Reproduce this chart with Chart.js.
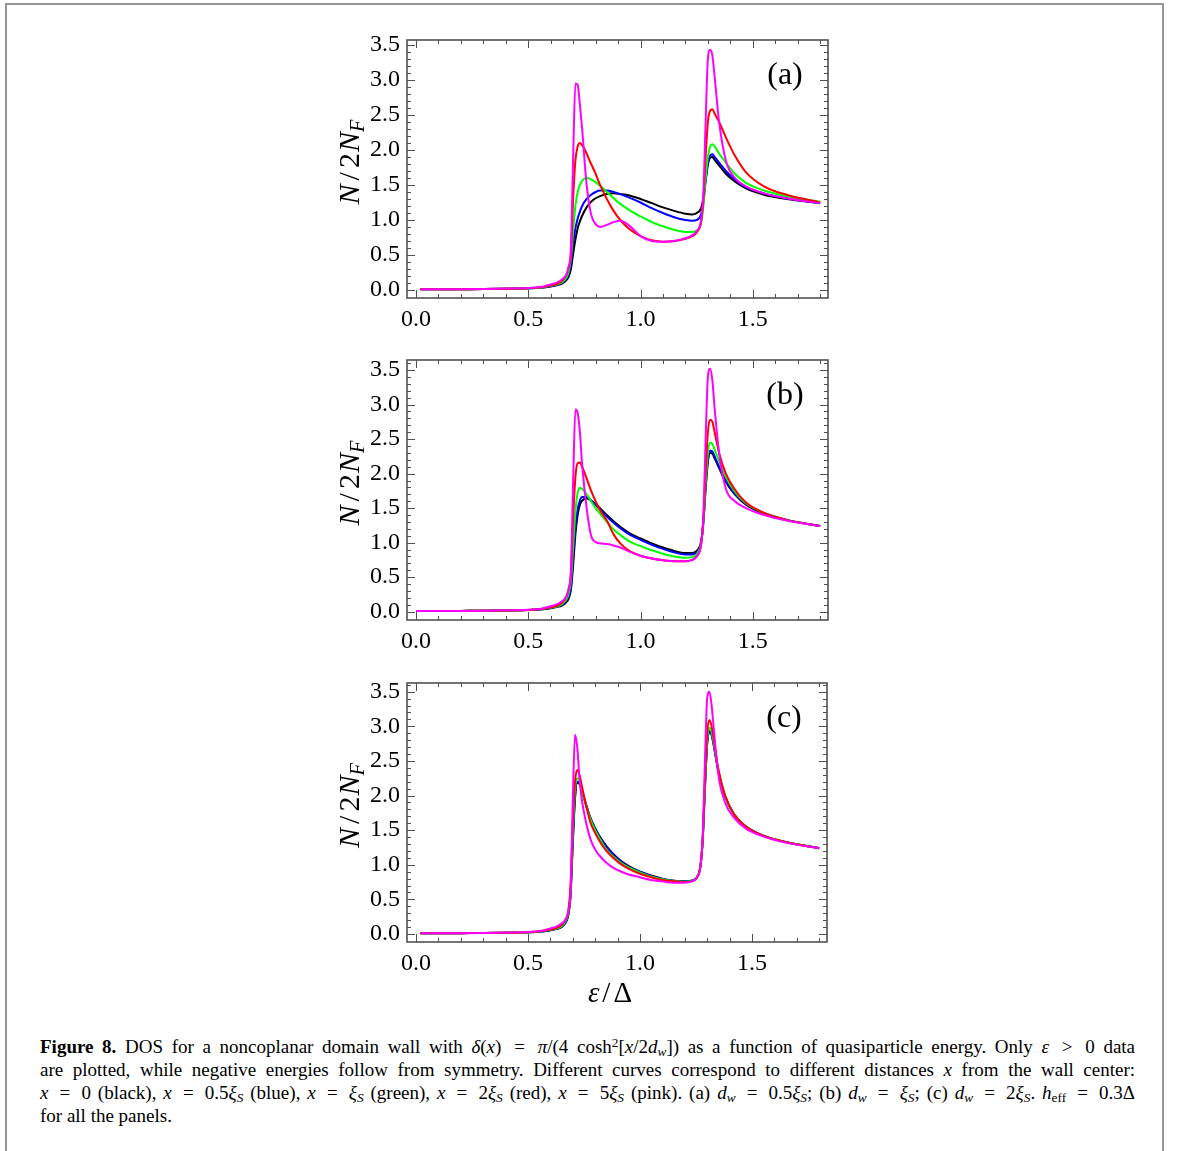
<!DOCTYPE html>
<html>
<head>
<meta charset="utf-8">
<script src="https://cdn.jsdelivr.net/npm/chart.js@4.4.0/dist/chart.umd.min.js"></script>
<style>
  html, body { margin: 0; padding: 0; background: #fff; overflow: hidden; }
  body { width: 1179px; height: 1151px; position: relative; }
  .box { position: absolute; left: 5px; top: 3px; width: 1155px; height: 1200px;
         border: 2px solid #959595; border-bottom: none; }
  canvas { position: absolute; left: 330px; }
  #cap { position: absolute; left: 40px; top: 1035px; width: 1095px;
         font-family: "Liberation Serif", "Times New Roman", serif; font-size: 19px;
         line-height: 23px; color: #000; }
  #cap div { white-space: nowrap; }
  #cap .j { text-align: justify; text-align-last: justify; }
  #cap .eq { padding: 0 0.22em; }
  #cap sub, #cap sup { font-size: 0.7em; line-height: 0; }
  #cap sub { vertical-align: -0.25em; }
  #cap sup { vertical-align: 0.45em; }
</style>
</head>
<body>
<div class="box"></div>
<canvas id="panelA" width="520" height="320" style="top:25px"></canvas>
<canvas id="panelB" width="520" height="320" style="top:345px"></canvas>
<canvas id="panelC" width="520" height="350" style="top:665px"></canvas>
<div id="cap">
  <div class="j"><b>Figure 8.</b> DOS for a noncoplanar domain wall with <i>δ</i>(<i>x</i>) <span class="eq">=</span> <i>π</i>/(4 cosh<sup>2</sup>[<i>x</i>/2<i>d<sub>w</sub></i>]) as a function of quasiparticle energy. Only <i>ε</i> <span class="eq">&gt;</span> 0 data</div>
  <div class="j">are plotted, while negative energies follow from symmetry. Different curves correspond to different distances <i>x</i> from the wall center:</div>
  <div class="j"><i>x</i> <span class="eq">=</span> 0 (black), <i>x</i> <span class="eq">=</span> 0.5<i>ξ<sub>S</sub></i> (blue), <i>x</i> <span class="eq">=</span> <i>ξ<sub>S</sub></i> (green), <i>x</i> <span class="eq">=</span> 2<i>ξ<sub>S</sub></i> (red), <i>x</i> <span class="eq">=</span> 5<i>ξ<sub>S</sub></i> (pink). (a) <i>d<sub>w</sub></i> <span class="eq">=</span> 0.5<i>ξ<sub>S</sub></i>; (b) <i>d<sub>w</sub></i> <span class="eq">=</span> <i>ξ<sub>S</sub></i>; (c) <i>d<sub>w</sub></i> <span class="eq">=</span> 2<i>ξ<sub>S</sub></i>. <i>h</i><sub>eff</sub> <span class="eq">=</span> 0.3Δ</div>
  <div>for all the panels.</div>
</div>
<script>
// energy grid (eps / Delta)
var eps  = [0.02,0.1,0.2,0.3,0.4,0.5,0.55,0.6,0.63,0.65,0.67,0.68,0.69,0.70,0.71,0.72,0.73,0.74,0.76,0.78,0.80,0.82,0.85,0.88,0.91,0.95,1.0,1.05,1.1,1.15,1.2,1.23,1.25,1.27,1.28,1.29,1.30,1.31,1.32,1.33,1.35,1.38,1.42,1.47,1.55,1.65,1.8];
var epsB = [0.0,0.1,0.2,0.3,0.4,0.5,0.55,0.6,0.63,0.65,0.67,0.68,0.69,0.70,0.71,0.72,0.73,0.74,0.76,0.78,0.80,0.82,0.85,0.88,0.91,0.95,1.0,1.05,1.1,1.15,1.2,1.23,1.25,1.27,1.28,1.29,1.30,1.31,1.32,1.33,1.35,1.38,1.42,1.47,1.55,1.65,1.8];

// (a) d_w = 0.5 xi_S
var blackA = [0.01,0.01,0.012,0.014,0.018,0.025,0.032, 0.05,0.07,0.09,0.14,0.19, 0.3,0.52,0.72,0.88,0.98, 1.06,1.18,1.26,1.31,1.34, 1.37,1.38,1.37,1.35,1.3, 1.24,1.18,1.13,1.09,1.08, 1.1,1.17,1.32,1.58,1.8, 1.89,1.9,1.86,1.78,1.66, 1.55,1.45,1.36,1.3,1.24];
var blueA  = [0.01,0.01,0.012,0.014,0.018,0.025,0.033, 0.055,0.075,0.1,0.16,0.22, 0.37,0.65,0.88,1.02,1.12, 1.2,1.3,1.36,1.4,1.42, 1.42,1.4,1.37,1.32,1.25, 1.17,1.1,1.04,1.0,0.99, 1.0,1.08,1.25,1.55,1.8, 1.92,1.94,1.9,1.82,1.7, 1.58,1.47,1.38,1.31,1.24];
var greenA = [0.01,0.01,0.012,0.014,0.018,0.025,0.034, 0.06,0.08,0.11,0.18,0.26, 0.45,0.85,1.2,1.4,1.5, 1.56,1.6,1.58,1.54,1.49, 1.4,1.31,1.23,1.14,1.05, 0.97,0.91,0.86,0.83,0.83, 0.85,0.95,1.2,1.6,1.9, 2.05,2.08,2.05,1.95,1.82, 1.66,1.53,1.42,1.34,1.26];
var redA   = [0.01,0.01,0.012,0.014,0.018,0.026,0.036, 0.065,0.09,0.13,0.22,0.33, 0.5,1.3,1.85,2.05,2.1, 2.07,1.95,1.8,1.66,1.5, 1.3,1.13,1.0,0.87,0.77, 0.71,0.69,0.7,0.73,0.77, 0.82,0.98,1.3,1.9,2.4, 2.56,2.58,2.52,2.4,2.18, 1.92,1.68,1.48,1.36,1.25];
var pinkA  = [0.01,0.01,0.012,0.015,0.02,0.03,0.04, 0.08,0.11,0.15,0.22,0.33, 0.6,1.9,2.95,2.93,2.65, 2.3,1.5,1.08,0.94,0.9, 0.93,0.97,0.99,0.92,0.77, 0.7,0.69,0.7,0.74,0.78, 0.84,1.0,1.4,2.4,3.3, 3.43,3.35,3.05,2.4,1.85, 1.6,1.48,1.38,1.31,1.24];

// (b) d_w = xi_S
var blackB = [0.01,0.01,0.012,0.014,0.018,0.025,0.032, 0.05,0.07,0.09,0.14,0.19, 0.32,0.68,1.12,1.4,1.55, 1.61,1.64,1.61,1.56,1.5, 1.4,1.31,1.23,1.14,1.06, 0.99,0.93,0.88,0.85,0.85, 0.88,1.02,1.3,1.78,2.17, 2.3,2.29,2.22,2.08,1.88, 1.7,1.55,1.42,1.33,1.24];
var blueB  = [0.01,0.01,0.012,0.014,0.018,0.025,0.033, 0.055,0.075,0.1,0.16,0.22, 0.36,0.76,1.22,1.48,1.61, 1.66,1.66,1.61,1.55,1.48, 1.38,1.29,1.21,1.12,1.04, 0.97,0.91,0.86,0.83,0.83, 0.86,1.0,1.3,1.8,2.2, 2.33,2.32,2.25,2.1,1.9, 1.71,1.56,1.43,1.33,1.24];
var greenB = [0.01,0.01,0.012,0.014,0.018,0.025,0.034, 0.06,0.08,0.11,0.18,0.26, 0.45,0.95,1.45,1.72,1.79, 1.78,1.7,1.6,1.5,1.42, 1.3,1.19,1.11,1.02,0.95, 0.89,0.84,0.8,0.78,0.79, 0.83,1.0,1.3,1.85,2.3, 2.45,2.43,2.35,2.18,1.95, 1.74,1.57,1.43,1.33,1.24];
var redB   = [0.01,0.01,0.012,0.014,0.018,0.026,0.036, 0.065,0.09,0.13,0.22,0.33, 0.55,1.35,1.95,2.15,2.16, 2.1,1.93,1.75,1.6,1.47, 1.32,1.12,0.99,0.88,0.81, 0.77,0.745,0.73,0.73,0.75, 0.8,0.98,1.35,2.0,2.6, 2.78,2.75,2.6,2.3,2.0, 1.77,1.58,1.43,1.33,1.24];
var pinkB  = [0.01,0.01,0.012,0.015,0.02,0.03,0.04, 0.08,0.11,0.15,0.22,0.33, 0.6,1.9,2.93,2.88,2.6, 2.13,1.5,1.1,1.01,0.99, 0.98,0.96,0.93,0.87,0.81, 0.77,0.745,0.73,0.73,0.75, 0.8,0.98,1.4,2.5,3.4, 3.52,3.35,2.95,2.3,1.78, 1.6,1.5,1.4,1.32,1.24];

// (c) d_w = 2 xi_S
var blackC = [0.01,0.01,0.012,0.014,0.018,0.025,0.032, 0.055,0.075,0.1,0.18,0.27, 0.55,1.3,1.95,2.18,2.17, 2.08,1.86,1.67,1.53,1.41, 1.27,1.16,1.07,0.98,0.9, 0.845,0.8,0.77,0.76,0.77, 0.8,0.98,1.35,2.1,2.75, 2.92,2.88,2.72,2.35,1.99, 1.73,1.56,1.42,1.33,1.24];
var blueC  = [0.01,0.01,0.012,0.014,0.018,0.025,0.033, 0.055,0.075,0.1,0.18,0.28, 0.56,1.33,1.98,2.2,2.18, 2.08,1.86,1.66,1.52,1.4, 1.26,1.15,1.06,0.97,0.9, 0.84,0.795,0.77,0.76,0.77, 0.8,0.98,1.35,2.1,2.75, 2.93,2.88,2.72,2.35,1.99, 1.73,1.56,1.42,1.33,1.24];
var greenC = [0.01,0.01,0.012,0.014,0.018,0.025,0.034, 0.06,0.08,0.11,0.2,0.3, 0.62,1.45,2.08,2.25,2.22, 2.1,1.85,1.65,1.5,1.38, 1.22,1.12,1.04,0.96,0.89, 0.83,0.79,0.765,0.755,0.765, 0.8,0.98,1.36,2.15,2.8, 2.98,2.92,2.75,2.36,1.99, 1.73,1.56,1.42,1.33,1.24];
var redC   = [0.01,0.01,0.012,0.014,0.018,0.026,0.036, 0.065,0.09,0.13,0.22,0.33, 0.7,1.6,2.2,2.37,2.3, 2.15,1.85,1.6,1.46,1.34, 1.2,1.1,1.02,0.94,0.87, 0.82,0.78,0.76,0.75,0.76, 0.8,0.98,1.38,2.2,2.9, 3.09,3.0,2.8,2.38,2.0, 1.73,1.56,1.42,1.33,1.24];
var pinkC  = [0.01,0.01,0.012,0.015,0.02,0.03,0.04, 0.08,0.11,0.15,0.22,0.33, 0.6,1.9,2.88,2.7,2.25, 1.95,1.6,1.36,1.22,1.13, 1.03,0.96,0.91,0.86,0.82, 0.78,0.76,0.74,0.74,0.76, 0.8,0.98,1.4,2.5,3.4, 3.5,3.3,2.95,2.3,1.9, 1.68,1.53,1.41,1.32,1.24];

var xTicks = [0, 0.5, 1.0, 1.5];
var yTicks = [0, 0.5, 1.0, 1.5, 2.0, 2.5, 3.0, 3.5];

var SERIF = '"Liberation Serif", "Times New Roman", serif';
Chart.defaults.font.family = SERIF;
Chart.defaults.color = '#000';

function richText(ctx, parts, cx, base, size) {
    var total = 0;
    parts.forEach(function(p) {
        p.sz = p.sub ? size * 0.68 : size;
        p.f = (p.it ? 'italic ' : '') + p.sz + 'px ' + SERIF;
        ctx.font = p.f;
        p.w = ctx.measureText(p.t).width;
        total += (p.pre || 0) + p.w;
    });
    var x = cx - total / 2;
    ctx.textAlign = 'left';
    ctx.textBaseline = 'alphabetic';
    parts.forEach(function(p) {
        x += (p.pre || 0);
        ctx.font = p.f;
        ctx.fillText(p.t, x, base + (p.sub ? size * 0.16 : 0));
        x += p.w;
    });
}

// Mathematica-like frame: box with inward ticks on all four sides
var framePlugin = {
    id: 'frame',
    afterDraw: function(chart, args, opts) {
        var ctx = chart.ctx, a = chart.chartArea, xs = chart.scales.x, ys = chart.scales.y;
        ctx.save();
        ctx.strokeStyle = '#505050';
        ctx.lineWidth = 1;
        ctx.beginPath();
        for (var i = 0; i <= 18; i++) {
            var px = Math.round(xs.getPixelForValue(i / 10)) + 0.5;
            var len = (i % 5 === 0) ? 8 : 4;
            ctx.moveTo(px, a.bottom); ctx.lineTo(px, a.bottom - len);
            ctx.moveTo(px, a.top); ctx.lineTo(px, a.top + len);
        }
        for (var j = -1; j <= 36; j++) {
            var py = Math.round(ys.getPixelForValue(j / 10)) + 0.5;
            if (py < a.top + 2 || py > a.bottom - 2) continue;
            var l2 = (j % 5 === 0) ? 8 : 4;
            ctx.moveTo(a.left, py); ctx.lineTo(a.left + l2, py);
            ctx.moveTo(a.right, py); ctx.lineTo(a.right - l2, py);
        }
        ctx.stroke();
        ctx.lineWidth = 1.6;
        ctx.strokeRect(a.left, a.top, a.right - a.left, a.bottom - a.top);

        ctx.fillStyle = '#000';
        // panel letter
        ctx.font = '32px ' + SERIF;
        ctx.textAlign = 'center';
        ctx.textBaseline = 'middle';
        ctx.fillText(opts.letter, a.right - 43, a.top + 36);
        // y title N/2N_F
        ctx.save();
        ctx.translate(22, (a.top + a.bottom) / 2 - 7);
        ctx.rotate(-Math.PI / 2);
        richText(ctx, [{t: 'N', it: 1}, {t: '/', pre: 4}, {t: '2', pre: 4}, {t: 'N', it: 1, pre: 1}, {t: 'F', it: 1, sub: 1}], 0, 7, 30);
        ctx.restore();
        if (opts.xTitle) {
            richText(ctx, [{t: 'ε', it: 1}, {t: '/', pre: 3}, {t: 'Δ', pre: 3}], 280, a.bottom + 60, 29);
        }
        ctx.restore();
    }
};

function pts(xs, ys) {
    return xs.map(function(x, i) { return {x: x, y: ys[i]}; });
}

function makePanel(id, xs, series, letter, yMin, yMax, padTop, padRight, xAxisH, xTitle) {
    var colors = ['#000000', '#0000ff', '#00ff00', '#ff0000', '#ff00ff'];
    var datasets = series.map(function(s, k) {
        return {
            data: pts(xs, s),
            borderColor: colors[k],
            borderWidth: 2,
            pointRadius: 0,
            fill: false,
            cubicInterpolationMode: 'monotone',
            order: 5 - k
        };
    });
    new Chart(document.getElementById(id).getContext('2d'), {
        type: 'line',
        data: {datasets: datasets},
        options: {
            responsive: false,
            animation: false,
            events: [],
            layout: {padding: {top: padTop, right: padRight, left: 0, bottom: 0}},
            plugins: {legend: {display: false}, tooltip: {enabled: false},
                      frame: {letter: letter, xTitle: xTitle}},
            scales: {
                x: {
                    type: 'linear', min: -0.04, max: 1.835,
                    grid: {display: false, drawTicks: false}, border: {display: false},
                    afterBuildTicks: function(s) { s.ticks = xTicks.map(function(v) { return {value: v}; }); },
                    ticks: {font: {size: 24}, padding: 7, maxRotation: 0,
                            callback: function(v) { return v.toFixed(1); }},
                    afterFit: function(s) { s.height = xAxisH; s.paddingLeft = 0; s.paddingRight = 0; }
                },
                y: {
                    type: 'linear', min: yMin, max: yMax,
                    grid: {display: false, drawTicks: false}, border: {display: false},
                    afterBuildTicks: function(s) { s.ticks = yTicks.map(function(v) { return {value: v}; }); },
                    ticks: {font: {size: 24}, padding: 7,
                            callback: function(v) { return v.toFixed(1); }},
                    afterFit: function(s) { s.width = 77; s.paddingTop = 0; s.paddingBottom = 0; }
                }
            }
        },
        plugins: [framePlugin]
    });
}

makePanel('panelA', eps,  [blackA, blueA, greenA, redA, pinkA], '(a)', -0.114, 3.57, 15, 22, 47, false);
makePanel('panelB', epsB, [blackB, blueB, greenB, redB, pinkB], '(b)', -0.12, 3.645, 15, 22, 45, false);
makePanel('panelC', eps,  [blackC, blueC, greenC, redC, pinkC], '(c)', -0.116, 3.626, 18, 23, 73, true);
</script>
</body>
</html>
